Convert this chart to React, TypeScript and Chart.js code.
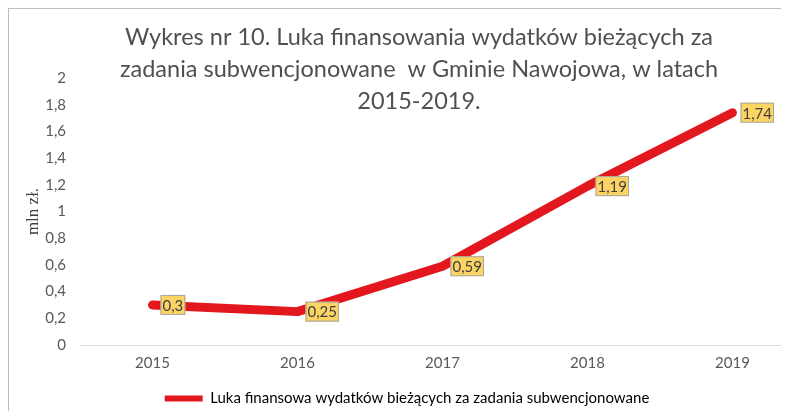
import React, { useEffect, useRef } from "react";
import { Chart, registerables } from "chart.js";

Chart.register(...registerables);

const categories = ["2015", "2016", "2017", "2018", "2019"];
const values = [0.3, 0.25, 0.59, 1.19, 1.74];
const seriesName = "Luka finansowa wydatków bieżących za zadania subwencjonowane";
const titleLines = [
  "Wykres nr 10. Luka finansowania wydatków bieżących za",
  "zadania subwencjonowane  w Gminie Nawojowa, w latach",
  "2015-2019.",
];
const yAxisTitle = "mln zł.";
const yMin = 0;
const yMax = 2;
const yStep = 0.2;

const FONT = "Lato, 'Open Sans', sans-serif";

const fmt = (v: number) => String(Number(v.toFixed(2))).replace(".", ",");

const titlePlugin = {
  id: "customTitle",
  afterDraw(chart: any) {
    const ctx = chart.ctx;
    ctx.save();
    ctx.fillStyle = "#505050";
    ctx.font = `23.5px ${FONT}`;
    ctx.textAlign = "center";
    ctx.textBaseline = "middle";
    const cx = chart.width / 2;
    titleLines.forEach((t, i) => ctx.fillText(t, cx, 28 + i * 32));
    ctx.restore();
  },
};

const labelPlugin = {
  id: "boxLabels",
  afterDatasetsDraw(chart: any) {
    const ctx = chart.ctx;
    const meta = chart.getDatasetMeta(0);
    ctx.save();
    ctx.font = `15px ${FONT}`;
    ctx.textBaseline = "middle";
    ctx.textAlign = "left";
    meta.data.forEach((pt: any, i: number) => {
      const txt = fmt(values[i]);
      const w = ctx.measureText(txt).width + 4;
      const h = 20;
      const x = pt.x + 8;
      const y = pt.y - h / 2;
      ctx.fillStyle = "#fcd463";
      ctx.fillRect(x, y, w, h);
      ctx.strokeStyle = "#a6a6a6";
      ctx.lineWidth = 1;
      ctx.strokeRect(x + 0.5, y + 0.5, w - 1, h - 1);
      ctx.fillStyle = "#404040";
      ctx.fillText(txt, x + 2, pt.y + 1);
    });
    ctx.restore();
  },
};

export default function App() {
  const ref = useRef<HTMLCanvasElement>(null);
  useEffect(() => {
    if (!ref.current) return;
    const chart = new Chart(ref.current, {
      type: "line",
      data: {
        labels: categories,
        datasets: [
          {
            label: seriesName,
            data: values,
            borderColor: "#e3171e",
            backgroundColor: "#e3171e",
            borderWidth: 9,
            borderCapStyle: "round",
            borderJoinStyle: "round",
            pointRadius: 0,
            tension: 0,
          },
        ],
      },
      options: {
        animation: false,
        responsive: false,
        devicePixelRatio: 1,
        layout: { padding: { top: 69, right: 24, bottom: 3, left: 0 } },
        plugins: {
          legend: {
            position: "bottom",
            labels: {
              font: { family: FONT, size: 15 },
              color: "#404040",
              boxWidth: 38,
              boxHeight: 6,
              useBorderRadius: true,
              borderRadius: 3,
              padding: 10,
              generateLabels: () => [
                {
                  text: seriesName,
                  fillStyle: "#e3171e",
                  strokeStyle: "#e3171e",
                  lineWidth: 0,
                  datasetIndex: 0,
                  hidden: false,
                },
              ],
            },
          },
          tooltip: { enabled: false },
        },
        scales: {
          x: {
            offset: true,
            grid: { display: false, drawTicks: false },
            border: { display: true, color: "#d9d9d9", width: 1 },
            ticks: { color: "#595959", font: { family: FONT, size: 15 }, padding: 9 },
            afterFit: (s: any) => {
              s.height = 36;
            },
          },
          y: {
            min: yMin,
            max: yMax,
            grid: { display: false, drawTicks: false },
            border: { display: false },
            ticks: {
              stepSize: yStep,
              color: "#595959",
              font: { family: FONT, size: 15 },
              padding: 14,
              callback: (v: any) => fmt(Number(v)),
            },
            title: {
              display: true,
              text: yAxisTitle,
              color: "#404040",
              font: { family: "'Liberation Serif', serif", size: 17 },
              padding: { top: 14, bottom: 0 },
            },
            afterFit: (s: any) => {
              s.width = 71;
            },
          },
        },
      },
      plugins: [titlePlugin, labelPlugin],
    });
    return () => chart.destroy();
  }, []);

  return (
    <div
      style={{
        position: "relative",
        width: 789,
        height: 419,
        margin: -8,
        background: "#b7c0c5",
        overflow: "hidden",
      }}
    >
      <div
        style={{
          position: "absolute",
          left: 9,
          top: 9,
          right: 0,
          bottom: 0,
          background: "#ffffff",
        }}
      />
      <canvas
        ref={ref}
        width={820}
        height={410}
        style={{ position: "absolute", left: 9, top: 9, width: 820, height: 410 }}
      />
    </div>
  );
}
